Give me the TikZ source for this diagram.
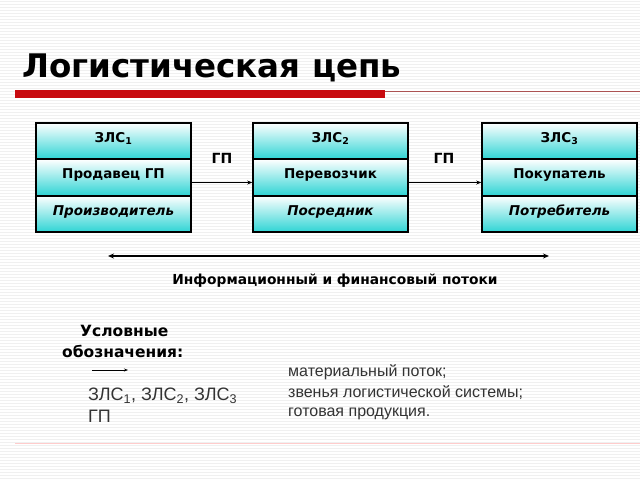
\documentclass[tikz,border=0pt]{standalone}
\usepackage{fontspec}
\setmainfont{DejaVu Sans}
\newfontfamily\arialf{Liberation Sans}
\usetikzlibrary{arrows.meta}
\definecolor{cyanbox}{RGB}{45,212,212}
\definecolor{barred}{RGB}{200,10,15}
\begin{document}
\begin{tikzpicture}[x=1pt,y=-1pt,
  cell/.style={draw=black, line width=1.6pt, minimum width=155pt, minimum height=36.5pt,
    text height=10pt, text depth=8pt,
    top color=white, bottom color=cyanbox, inner sep=0pt, font=\bfseries\fontsize{13.5}{15}\selectfont},
  flow/.style={-{Stealth[length=5pt,width=4pt]}, line width=0.6pt},
  lbl/.style={font=\bfseries\fontsize{14}{16}\selectfont, inner sep=0pt},
  leg/.style={anchor=west, inner sep=0pt, font=\arialf\fontsize{16}{18}\selectfont, text=black!80}]
\useasboundingbox (0,0) rectangle (640,480);
\fill[white] (0,0) rectangle (640,480);
\foreach \y in {1,4,...,479} \draw[gray!12, line width=1pt] (0,\y) -- (640,\y);
% title
\node[anchor=base west, inner sep=0pt, font=\bfseries\fontsize{32.5}{38}\selectfont] (title) at (22,77) {Логистическая цепь};
\fill[barred] (15,90) rectangle (385,98);
\draw[red!35!gray, line width=0.6pt] (385,91) -- (640,91);
% boxes
\node[cell] (a1) at (113.5,141) {ЗЛС\textsubscript{1}};
\node[cell] (a2) at (113.5,177.5) {Продавец ГП};
\node[cell] (a3) at (113.5,214) {\itshape Производитель};
\node[cell] (b1) at (330.5,141) {ЗЛС\textsubscript{2}};
\node[cell] (b2) at (330.5,177.5) {Перевозчик};
\node[cell] (b3) at (330.5,214) {\itshape Посредник};
\node[cell] (c1) at (559.5,141) {ЗЛС\textsubscript{3}};
\node[cell] (c2) at (559.5,177.5) {Покупатель};
\node[cell] (c3) at (559.5,214) {\itshape Потребитель};
% material flows
\draw[flow] ([yshift=-5pt]a2.east) -- ([yshift=-5pt]b2.west);
\draw[flow] ([yshift=-5pt]b2.east) -- ([yshift=-5pt]c2.west);
\node[lbl] (g1) at (222,158) {ГП};
\node[lbl] (g2) at (444,158) {ГП};
% info flow
\coordinate (ia) at (108,256);
\coordinate (ib) at (549,256);
\draw[{Stealth[length=6pt,width=5pt]}-{Stealth[length=6pt,width=5pt]}, line width=1.5pt] (ia) -- (ib);
\node[lbl, font=\bfseries\fontsize{13.8}{16}\selectfont] (info) at (335,281) {Информационный и финансовый потоки};
% legend
\node[anchor=west, inner sep=0pt, font=\bfseries\fontsize{15.5}{18}\selectfont] (u1) at (80,331) {Условные};
\node[anchor=west, inner sep=0pt, font=\bfseries\fontsize{15.5}{18}\selectfont] (u2) at (62,351) {обозначения:};
\coordinate (la) at (92,370);
\coordinate (lb) at (128,370);
\draw[-{Stealth[length=4pt,width=3pt]}, line width=0.6pt] (la) -- (lb);
\node[leg, font=\arialf\fontsize{18}{20}\selectfont] (z) at (88,396) {ЗЛС\textsubscript{1}, ЗЛС\textsubscript{2}, ЗЛС\textsubscript{3}};
\node[leg, font=\arialf\fontsize{18}{20}\selectfont] (gp) at (88,416) {ГП};
\node[leg] (t1) at (288,372) {материальный поток;};
\node[leg] (t2) at (288,393) {звенья логистической системы;};
\node[leg] (t3) at (288,414) {готовая продукция.};
\draw[red!20, line width=1pt] (15,443) -- (640,443);
\end{tikzpicture}
\end{document}
